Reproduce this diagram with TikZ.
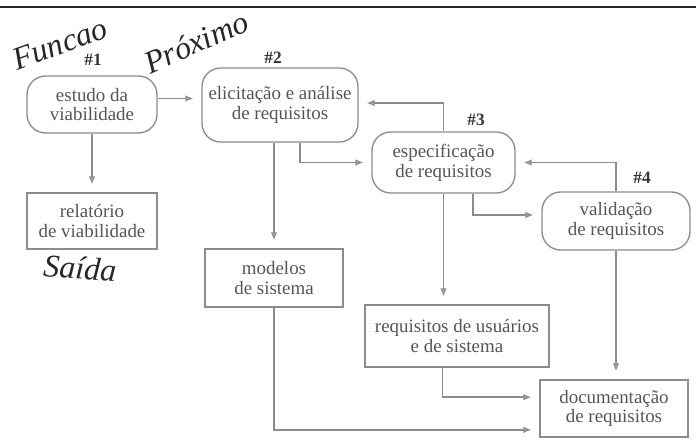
\documentclass[tikz,border=0pt]{standalone}
\usepackage{fontspec}
\setmainfont{Liberation Serif}
\usetikzlibrary{arrows.meta,calc}
\definecolor{ln}{HTML}{8C8C8C}
\definecolor{tx}{HTML}{555555}
\tikzset{
  proc/.style={draw=ln, line width=1pt, rounded corners=14pt, align=center, text=tx,
    font=\fontsize{14.2}{14.8}\selectfont, inner sep=2pt},
  outbox/.style={draw=ln, line width=1pt, align=center, text=tx,
    font=\fontsize{14.2}{14.8}\selectfont, inner sep=2pt},
  num/.style={font=\fontsize{13}{14}\selectfont\bfseries, text=black!80},
  hand/.style={font=\fontsize{24}{26}\selectfont\itshape, text=black!85, inner sep=0pt},
  arr/.style={draw=ln, line width=1pt, -{Latex[length=6pt,width=5pt,fill=ln!60]}, shorten >=6pt}
}
\begin{document}
\begin{tikzpicture}[x=0.75pt,y=-0.75pt]
\useasboundingbox (0,0) rectangle (696,441);
\draw[line width=1.6pt, black!85] (0,7) -- (696,7);

% process nodes
\node[proc, minimum width=97.5pt, minimum height=42.75pt] (b1) at (92,104.5) {estudo da\\viabilidade};
\node[proc, minimum width=117pt, minimum height=55.5pt] (b2) at (280,105) {elicitação e análise\\de requisitos};
\node[proc, minimum width=107.25pt, minimum height=45.75pt] (b3) at (443.5,162.5) {especificação\\de requisitos};
\node[proc, minimum width=111pt, minimum height=43.5pt] (b4) at (616,221) {validação\\de requisitos};

% output nodes
\node[outbox, minimum width=97.5pt, minimum height=42pt] (rel) at (92,221) {relatório\\de viabilidade};
\node[outbox, minimum width=103.5pt, minimum height=43.5pt] (mod) at (274,278) {modelos\\de sistema};
\node[outbox, minimum width=138pt, minimum height=46.5pt] (req) at (457,336) {requisitos de usuários\\e de sistema};
\node[outbox, minimum width=111pt, minimum height=42.75pt] (docu) at (614,408.5) {documentação\\de requisitos};

% labels
\node[num] (n1) at (93,60) {\#1};
\node[num] (n2) at (273,58) {\#2};
\node[num] (n3) at (476,120) {\#3};
\node[num] (n4) at (642,178) {\#4};

% handwriting
\node[hand, rotate=20] (h1) at (60,44) {Funcao};
\node[hand, rotate=24] (h2) at (196,42) {Próximo};
\node[hand, rotate=-4] (h3) at (80,268) {Saída};

% connectors
\draw[arr] ([yshift=4.5pt]b1.east) -- ([yshift=4.5pt]b1.east -| b2.west);
\draw[arr] (b1.south) -- (rel.north);
\draw[arr] (b2.south -| mod.north) -- (mod.north);
\draw[arr] ([xshift=15pt]b2.south) |- (b3.west);
\draw[arr] (b3.north) |- ([yshift=1.5pt]b2.east);
\draw[arr] ([xshift=22pt]b3.south) |- ([yshift=4.5pt]b4.west);
\draw[arr] (b4.north) |- (b3.east);
\draw[arr] (b3.south) -- (b3.south |- req.north);
\draw[arr] (b4.south) -- (b4.south |- docu.north);
\draw[arr] ([xshift=-11pt]req.south) |- ([yshift=8.5pt]docu.west);
\draw[arr] (mod.south) |- ([yshift=-16pt]docu.west);
\end{tikzpicture}
\end{document}
